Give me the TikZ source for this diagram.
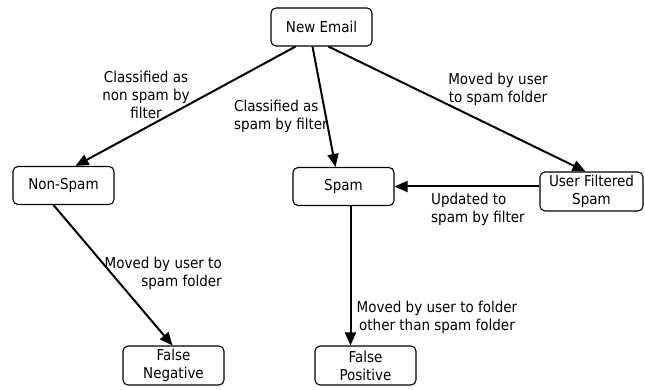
\documentclass[tikz,border=0pt]{standalone}
\usepackage{fontspec}
\setmainfont{DejaVu Sans Condensed}
\usetikzlibrary{arrows.meta}
\begin{document}
\begin{tikzpicture}[x=1pt,y=-1pt,
  box/.style={draw,rounded corners=5pt,line width=1.1pt,minimum width=101pt,minimum height=38pt,align=center,font=\fontsize{15}{18}\selectfont,inner sep=1pt},
  conn/.style={line width=2pt,-{Triangle[length=13pt,width=11pt]}},
  lbl/.style={font=\fontsize{15}{18}\selectfont,inner sep=0pt}]
\useasboundingbox (0,0) rectangle (645,390);
\node[box] (ne) at (321.5,27) {New Email};
\node[box] (ns) at (63.5,185.5) {Non-Spam};
\node[box] (sp) at (343.5,186.5) {Spam};
\node[box,minimum width=103pt,minimum height=39pt] (uf) at (591.5,191.5) {User Filtered\\Spam};
\node[box,minimum height=39pt] (fn) at (173.5,365.5) {False\\Negative};
\node[box,minimum height=39pt] (fp) at (365.5,365.5) {False\\Positive};
\draw[conn] ([xshift=-26pt]ne.south) -- ([xshift=12pt]ns.north);
\draw[conn] ([xshift=-9pt]ne.south) -- ([xshift=-8pt]sp.north);
\draw[conn] ([xshift=7pt]ne.south) -- ([xshift=-6pt]uf.north);
\draw[conn] (sp.east -| uf.west) -- (sp.east);
\draw[conn] ([xshift=-10pt]ns.south) -- ([xshift=-1pt]fn.north);
\draw[conn] ([xshift=7pt]sp.south) -- ([xshift=-15pt]fp.north);
\node[lbl,align=center] (l1) at (146,95) {Classified as\\non spam by\\filter};
\node[lbl,align=left,anchor=west] (l2) at (234,116) {Classified as\\spam by filter};
\node[lbl,align=center] (l3) at (498,89) {Moved by user\\to spam folder};
\node[lbl,align=left,anchor=west] (l4) at (431,209) {Updated to\\spam by filter};
\node[lbl,align=right,anchor=east] (l5) at (222,273) {Moved by user to\\spam folder};
\node[lbl,align=center] (l6) at (437,317) {Moved by user to folder\\other than spam folder};
\end{tikzpicture}
\end{document}
